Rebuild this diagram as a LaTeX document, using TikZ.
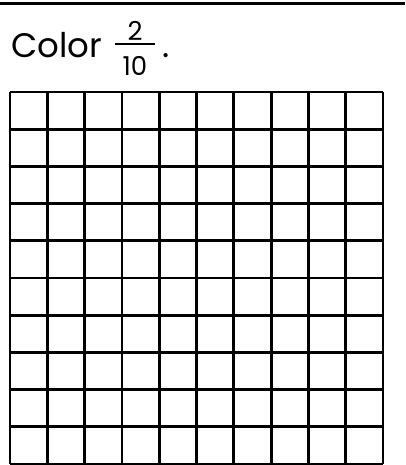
\documentclass[tikz,border=0pt]{standalone}
\usepackage{fontspec}
\setmainfont{Poppins}
\begin{document}
\begin{tikzpicture}[x=1pt,y=-1pt,
  gridline/.style={line width=2.8pt,black},
  lbl/.style={inner sep=0pt,anchor=base west,font=\fontsize{34}{40}\selectfont},
  frac/.style={inner sep=0pt,anchor=base,font=\fontsize{26}{30}\selectfont}]
\useasboundingbox (0,0) rectangle (405,465);
\draw[line width=3pt] (0,4) -- (405,4);
\node[lbl] (color) at (11,58) {Color};
\node[frac] (num) at (135,41) {2};
\node[frac] (den) at (135,76) {10};
\draw[line width=2pt] (115,44) coordinate (barL) -- (155,44) coordinate (barR);
\node[lbl] (dot) at (162,58) {.};
\foreach \i in {0,...,10}{
  \draw[gridline] ({10+37.3*\i},92) -- ({10+37.3*\i},464);
  \draw[gridline] (10,{92+37.2*\i}) -- (383,{92+37.2*\i});
}
\end{tikzpicture}
\end{document}
